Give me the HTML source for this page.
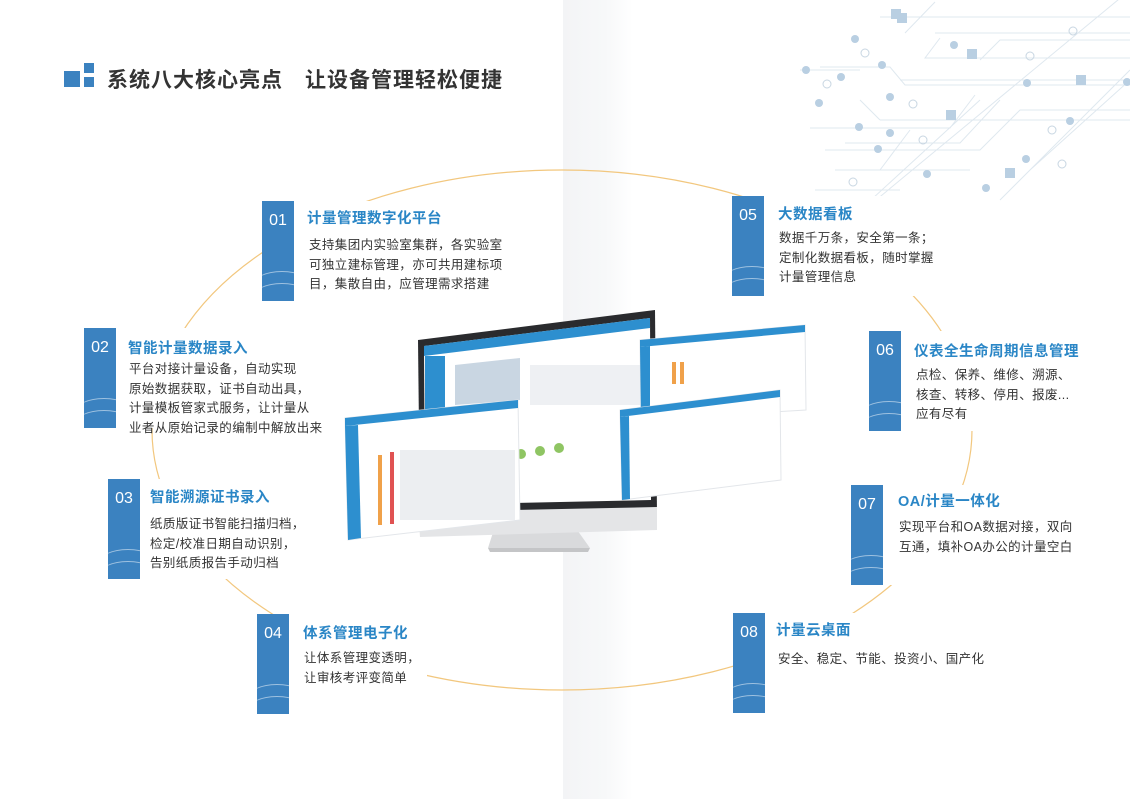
<!DOCTYPE html>
<html><head><meta charset="utf-8"><style>
*{margin:0;padding:0;box-sizing:border-box}
body{width:1130px;height:799px;position:relative;overflow:hidden;background:#fff;font-family:"Liberation Sans","Noto Sans CJK SC",sans-serif}
.band{position:absolute;left:563px;top:0;width:70px;height:799px;background:linear-gradient(90deg,#f3f4f6,#f7f8f9 60%,#fff)}
.card{position:absolute;background:#fff;height:100px}
.bar{position:absolute;left:0;top:0;width:32px;height:100px;background:#3b82c0;overflow:hidden}
.bar span{position:absolute;top:11px;left:0;width:32px;text-align:center;color:#fff;font-size:16px}
.bar i{position:absolute;left:-10px;width:60px;height:30px;border-top:1px solid rgba(255,255,255,.5);border-radius:50%}
.t{position:absolute;color:#2a86c6;font-size:14.5px;font-weight:bold;white-space:nowrap;letter-spacing:.5px}
.d{position:absolute;color:#333;font-size:12.5px;line-height:19.5px;white-space:nowrap;letter-spacing:.4px}
.title{position:absolute;left:107px;top:64px;font-size:21px;font-weight:bold;color:#333;letter-spacing:1px}
</style></head><body>
<div class="band"></div>
<svg width="1130" height="799" style="position:absolute;left:0;top:0">
<ellipse cx="562" cy="430" rx="410" ry="260" fill="none" stroke="#f2c77e" stroke-width="1.2"/>
<g stroke="#dfe8ef" stroke-width="1" fill="none">
<path d="M880 17H1130M935 33H1130M905 33L935 2M940 38L925 58H1130M820 67H890L905 85H1130M800 70H860M900 80L1130 80M860 100L880 120M880 120H1130M810 128H950L975 95M845 143H960L1000 100M825 150H980L1020 110H1130M835 170H970M880 170L910 130M815 190H900M980 60L1000 40H1130M1000 200L1130 70M1010 190L1120 80M860 210L980 100M870 205L1130 -10M1030 170L1130 80"/>
</g>
<g fill="#b9cfe2">
<circle cx="855" cy="39" r="4"/><circle cx="882" cy="65" r="4"/><circle cx="806" cy="70" r="4"/><circle cx="841" cy="77" r="4"/><circle cx="819" cy="103" r="4"/><circle cx="890" cy="97" r="4"/><circle cx="859" cy="127" r="4"/><circle cx="890" cy="133" r="4"/><circle cx="878" cy="149" r="4"/><circle cx="927" cy="174" r="4"/><circle cx="1027" cy="83" r="4"/><circle cx="1026" cy="159" r="4"/><circle cx="1127" cy="82" r="4"/><circle cx="954" cy="45" r="4"/><circle cx="1070" cy="121" r="4"/><circle cx="986" cy="188" r="4"/>
<rect x="891" y="9" width="10" height="10"/><rect x="967" y="49" width="10" height="10"/><rect x="1076" y="75" width="10" height="10"/><rect x="946" y="110" width="10" height="10"/><rect x="1005" y="168" width="10" height="10"/><rect x="897" y="13" width="10" height="10"/>
</g>
<g fill="none" stroke="#c8d6e2"><circle cx="865" cy="53" r="4"/><circle cx="827" cy="84" r="4"/><circle cx="913" cy="104" r="4"/><circle cx="1073" cy="31" r="4"/><circle cx="1030" cy="56" r="4"/><circle cx="1062" cy="164" r="4"/><circle cx="923" cy="140" r="4"/><circle cx="853" cy="182" r="4"/><circle cx="1052" cy="130" r="4"/></g>
<!-- monitor -->
<path d="M497 520L570 520L590 548L488 548Z" fill="#d9dadc"/>
<path d="M488 548L590 548L588 552L490 552Z" fill="#c4c5c7"/>
<path d="M418 340L655 310L657 515L420 520Z" fill="#2a2b2e"/>
<path d="M418 512L657 507L657 530L420 537Z" fill="#e4e5e7"/>
<path d="M424 346L650 318L651 500L425 505Z" fill="#fff"/>
<path d="M424 346L650 318L650 328L424 356Z" fill="#2d8fcf"/>
<rect x="425" y="356" width="20" height="140" fill="#2d8fcf"/>
<path d="M455 365L520 358L520 400L455 405Z" fill="#c9d6e2"/>
<g fill="#eef0f3"><rect x="530" y="365" width="110" height="40"/></g>
<g fill="#8fc563"><circle cx="521" cy="454" r="5"/><circle cx="540" cy="451" r="5"/><circle cx="559" cy="448" r="5"/></g>
<!-- left screen -->
<path d="M345 418L518 400L520 520L348 540Z" fill="#fff" stroke="#e3e6ea"/>
<path d="M345 418L518 400L518 408L345 426Z" fill="#2d8fcf"/>
<path d="M345 426L358 425L361 538L348 540Z" fill="#2d8fcf"/>
<g fill="#f0a14a"><rect x="378" y="455" width="4" height="70"/></g>
<g fill="#e05252"><rect x="390" y="452" width="4" height="72"/></g>
<g fill="#eceef1"><rect x="400" y="450" width="115" height="70"/></g>
<!-- right screens -->
<path d="M640 340L805 325L806 410L641 420Z" fill="#fff" stroke="#e3e6ea"/>
<path d="M640 340L805 325L805 332L640 347Z" fill="#2d8fcf"/>
<path d="M640 347L650 346L650 420L641 420Z" fill="#2d8fcf"/>
<path d="M620 410L780 390L781 480L622 500Z" fill="#fff" stroke="#e3e6ea"/>
<path d="M620 410L780 390L780 397L620 417Z" fill="#2d8fcf"/>
<path d="M620 417L629 416L630 499L622 500Z" fill="#2d8fcf"/>
<g fill="#f0a14a"><rect x="672" y="362" width="4" height="22"/><rect x="680" y="362" width="4" height="22"/></g>
<!-- title icon -->
<rect x="64" y="71" width="16" height="16" fill="#3b82c0"/>
<rect x="84" y="63" width="10" height="10" fill="#3b82c0"/>
<rect x="84" y="77" width="10" height="10" fill="#3b82c0"/>
</svg>
<div class="title">系统八大核心亮点　让设备管理轻松便捷</div>

<div class="card" style="left:262px;top:201px;width:230px"><div class="bar"><span>01</span><i style="top:70px"></i><i style="top:82px"></i></div></div>
<div class="t" style="left:307px;top:207px">计量管理数字化平台</div>
<div class="d" style="left:309px;top:236px">支持集团内实验室集群，各实验室<br>可独立建标管理，亦可共用建标项<br>目，集散自由，应管理需求搭建</div>

<div class="card" style="left:84px;top:328px;width:240px"><div class="bar"><span>02</span><i style="top:70px"></i><i style="top:82px"></i></div></div>
<div class="t" style="left:128px;top:337px">智能计量数据录入</div>
<div class="d" style="left:129px;top:360px">平台对接计量设备，自动实现<br>原始数据获取，证书自动出具，<br>计量模板管家式服务，让计量从<br>业者从原始记录的编制中解放出来</div>

<div class="card" style="left:108px;top:479px;width:200px"><div class="bar"><span>03</span><i style="top:70px"></i><i style="top:82px"></i></div></div>
<div class="t" style="left:150px;top:486px">智能溯源证书录入</div>
<div class="d" style="left:150px;top:515px">纸质版证书智能扫描归档，<br>检定/校准日期自动识别，<br>告别纸质报告手动归档</div>

<div class="card" style="left:257px;top:614px;width:170px"><div class="bar"><span>04</span><i style="top:70px"></i><i style="top:82px"></i></div></div>
<div class="t" style="left:303px;top:622px">体系管理电子化</div>
<div class="d" style="left:304px;top:649px">让体系管理变透明，<br>让审核考评变简单</div>

<div class="card" style="left:732px;top:196px;width:210px"><div class="bar"><span>05</span><i style="top:70px"></i><i style="top:82px"></i></div></div>
<div class="t" style="left:778px;top:203px">大数据看板</div>
<div class="d" style="left:779px;top:229px">数据千万条，安全第一条；<br>定制化数据看板，随时掌握<br>计量管理信息</div>

<div class="card" style="left:869px;top:331px;width:220px"><div class="bar"><span>06</span><i style="top:70px"></i><i style="top:82px"></i></div></div>
<div class="t" style="left:914px;top:340px">仪表全生命周期信息管理</div>
<div class="d" style="left:916px;top:366px">点检、保养、维修、溯源、<br>核查、转移、停用、报废...<br>应有尽有</div>

<div class="card" style="left:851px;top:485px;width:230px"><div class="bar"><span>07</span><i style="top:70px"></i><i style="top:82px"></i></div></div>
<div class="t" style="left:898px;top:490px">OA/计量一体化</div>
<div class="d" style="left:899px;top:518px">实现平台和OA数据对接，双向<br>互通，填补OA办公的计量空白</div>

<div class="card" style="left:733px;top:613px;width:260px"><div class="bar"><span>08</span><i style="top:70px"></i><i style="top:82px"></i></div></div>
<div class="t" style="left:776px;top:619px">计量云桌面</div>
<div class="d" style="left:778px;top:650px">安全、稳定、节能、投资小、国产化</div>
</body></html>
